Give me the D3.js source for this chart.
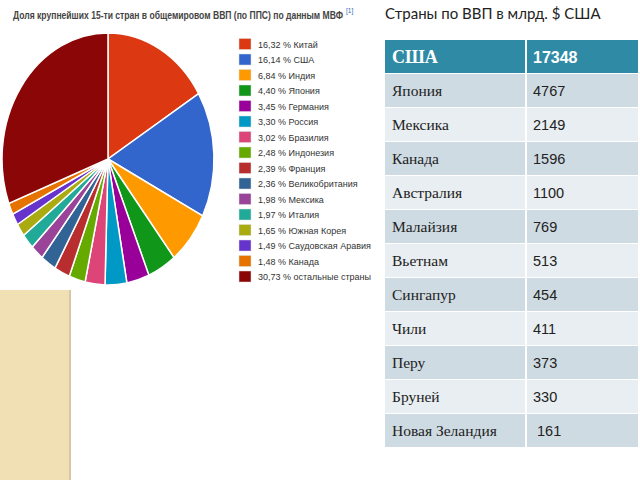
<!DOCTYPE html>
<html><head><meta charset="utf-8">
<script src="https://cdn.jsdelivr.net/npm/d3@7"></script>
<style>body{margin:0;background:#fff}svg{display:block}</style>
</head><body>
<svg id="c" width="640" height="480"></svg>
<script>
// Pie data (share of world GDP by PPP, %)
const pieLabels = ["Китай","США","Индия","Япония","Германия","Россия","Бразилия","Индонезия","Франция","Великобритания","Мексика","Италия","Южная Корея","Саудовская Аравия","Канада","остальные страны"];
const pieValues = [16.32,16.14,6.84,4.40,3.45,3.30,3.02,2.48,2.39,2.36,1.98,1.97,1.65,1.49,1.48,30.73];
const pieColors = ["#dc3912","#3366cc","#ff9900","#109618","#990099","#0099c6","#dd4477","#66aa00","#b82e2e","#316395","#994499","#22aa99","#aaaa11","#6633cc","#e67300","#8b0707"];
// Table data (GDP, bn USD)
const tableCountries = ["США","Япония","Мексика","Канада","Австралия","Малайзия","Вьетнам","Сингапур","Чили","Перу","Бруней","Новая Зеландия"];
const tableValues = ["17348","4767","2149","1596","1100","769","513","454","411","373","330"," 161"];

const svg = d3.select("#c");
const fmt = v => v.toFixed(2).replace(".", ",");

// beige block
svg.append("rect").attr("x",0).attr("y",290).attr("width",70).attr("height",190).attr("fill","#f1e0b3");
svg.append("rect").attr("x",69).attr("y",290).attr("width",2).attr("height",190).attr("fill","#d6c8a2");

// title with superscript as one text element
const title = svg.append("text").attr("x",13).attr("y",19).attr("font-family","Liberation Sans, Arial, sans-serif")
  .attr("font-size",10).attr("font-weight","bold").attr("fill","#444");
title.append("tspan").attr("textLength",330).attr("lengthAdjust","spacingAndGlyphs")
  .text("Доля крупнейших 15-ти стран в общемировом ВВП (по ППС) по данным МВФ");
title.append("tspan").attr("dx",3).attr("dy",-6).attr("font-size",6.5).attr("font-weight","normal")
  .attr("fill","#3366bb").text("[1]");

// pie (elliptical)
const R = 100, rx = 106, ry = 126, cx = 108, cy = 159;
const pie = d3.pie().sort(null).value(d => d)(pieValues);
const arc = d3.arc().innerRadius(0).outerRadius(R);
const g = svg.append("g").attr("transform",`translate(${cx},${cy}) scale(${rx/R},${ry/R})`);
g.selectAll("path").data(pie).join("path")
  .attr("d",arc).attr("fill",(d,i)=>pieColors[i])
  .attr("stroke","#fff").attr("stroke-width",1.5).attr("vector-effect","non-scaling-stroke");

// legend
const ly = d3.scalePoint().domain(d3.range(pieLabels.length)).range([44,276.5]);
const items = svg.append("g").selectAll("g").data(pieLabels).join("g").attr("transform",(d,i)=>`translate(0,${ly(i)})`);
items.append("rect").attr("x",239).attr("y",-5.5).attr("width",12).attr("height",11)
  .attr("fill",(d,i)=>pieColors[i]).attr("stroke","#ddd").attr("stroke-width",0.5);
items.append("text").attr("x",258).attr("y",3.5).attr("font-family","Liberation Sans, Arial, sans-serif")
  .attr("font-size",9).attr("fill","#333").text((d,i)=>fmt(pieValues[i])+" % "+d);

// subtitle
svg.append("text").attr("x",385).attr("y",19).attr("font-family","Lato, 'Open Sans', sans-serif")
  .attr("font-size",15).attr("fill","#222").text("Страны по ВВП в млрд. $ США");

// table
const tx0 = 385, tx1 = 638, colDiv = 526;
const rowY = d3.scaleBand().domain(d3.range(tableCountries.length)).range([40,448]);
const rows = svg.append("g").selectAll("g").data(tableCountries).join("g")
  .attr("transform",(d,i)=>`translate(0,${rowY(i)})`);
rows.append("rect").attr("x",tx0).attr("y",0).attr("width",tx1-tx0).attr("height",rowY.bandwidth())
  .attr("fill",(d,i)=> i===0 ? "#2f8ba5" : (i%2===1 ? "#cfdbe3" : "#e8eef1"));
rows.append("line").attr("x1",tx0).attr("x2",tx1).attr("y1",rowY.bandwidth()).attr("y2",rowY.bandwidth())
  .attr("stroke","#fff").attr("stroke-width",2);
rows.append("line").attr("x1",colDiv).attr("x2",colDiv).attr("y1",0).attr("y2",rowY.bandwidth())
  .attr("stroke","#fff").attr("stroke-width",2);
rows.append("text").attr("x",392).attr("y",(d,i)=> rowY.bandwidth()/2 + (i===0?6:5))
  .attr("font-family","Liberation Serif, Times New Roman, serif")
  .attr("font-size",(d,i)=> i===0?18:15.5).attr("font-weight",(d,i)=> i===0?"bold":"normal")
  .attr("fill",(d,i)=> i===0?"#fff":"#222").text(d=>d);
rows.append("text").attr("x",533).attr("y",(d,i)=> rowY.bandwidth()/2 + (i===0?6:5)).attr("xml:space","preserve")
  .style("white-space","pre")
  .attr("font-family","Liberation Sans, Arial, sans-serif")
  .attr("font-size",(d,i)=> i===0?16:14.5).attr("font-weight",(d,i)=> i===0?"bold":"normal")
  .attr("fill",(d,i)=> i===0?"#fff":"#222").text((d,i)=>tableValues[i]);
</script>
</body></html>
